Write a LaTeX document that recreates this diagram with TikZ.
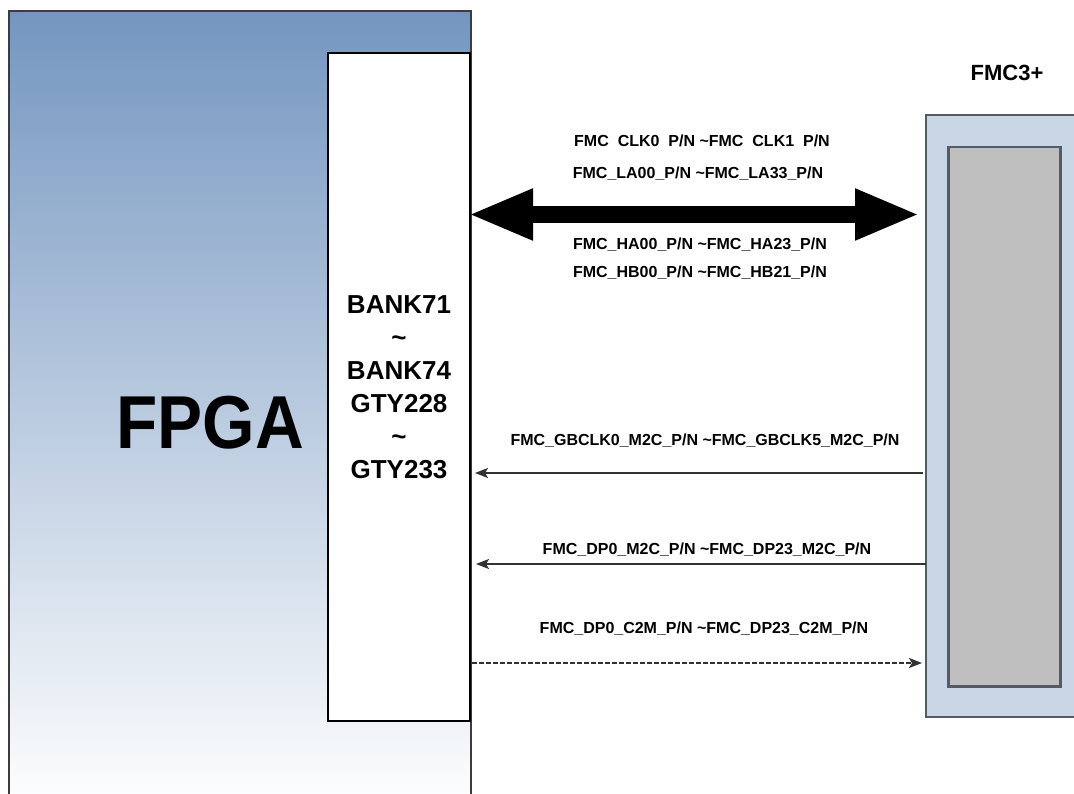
\documentclass[tikz,border=0pt]{standalone}
\usepackage{fontspec}
\setmainfont{Liberation Sans}
\usetikzlibrary{arrows.meta}
\definecolor{fpgatop}{RGB}{116,150,192}
\definecolor{fpgaline}{RGB}{60,60,64}
\definecolor{fmcblue}{RGB}{200,214,230}
\definecolor{fmcline}{RGB}{85,91,102}
\definecolor{fmcgray}{RGB}{191,191,191}
\definecolor{sigline}{RGB}{50,50,50}
\begin{document}
\begin{tikzpicture}[x=1pt,y=-1pt,
  lbl/.style={font=\bfseries\fontsize{16}{18}\selectfont, inner sep=0pt, text=black},
  sig/.style={draw=sigline, line width=2pt},
  tipl/.style={-{Stealth[length=13pt,width=10pt,inset=3pt]}},
  bigarrow/.style={line width=17pt, draw=black,
     {Triangle[length=65pt,width=47pt]}-{Triangle[length=65pt,width=47pt]}},
]
\useasboundingbox (0,0) rectangle (1074,794);
\clip (0,0) rectangle (1074,794);
\fill[white] (0,0) rectangle (1074,794);

% FPGA block
\node[anchor=north west, minimum width=462pt, minimum height=800pt, inner sep=0pt,
      top color=fpgatop, bottom color=white, draw=fpgaline, line width=2pt] (fpga) at (8,10) {};
\node[font=\bfseries\fontsize{75}{80}\selectfont, xscale=0.9, inner sep=0pt] (fpgatxt) at (210,423) {FPGA};

% Bank block
\node[draw=black, line width=2pt, fill=white, minimum width=142pt, minimum height=668pt,
      inner sep=0pt, align=center, font=\bfseries\fontsize{26}{33}\selectfont] (bank) at (399,387)
      {BANK71\\\textasciitilde\\BANK74\\GTY228\\\textasciitilde\\GTY233};

% FMC block
\node[anchor=north west, minimum width=170pt, minimum height=602pt, inner sep=0pt, fill=fmcblue] (fmco) at (926,115) {};
\draw[fmcline, line width=2pt] (fmco.north east) -- (fmco.north west) -- (fmco.south west) -- (fmco.south east);
\node[anchor=north west, minimum width=112pt, minimum height=539pt, inner sep=0pt, fill=fmcgray,
      draw=fmcline, line width=2.5pt] (fmci) at (947,146) {};
\node[font=\bfseries\fontsize{22}{24}\selectfont, inner sep=0pt] (fmclbl) at (1007,73) {FMC3+};

% Big bidirectional bus
\coordinate (ybig) at (0,214.5);
\draw[bigarrow, shorten <=-3pt, shorten >=6pt] (bank.east |- ybig) -- (fmco.west |- ybig);
\node[lbl] (l1) at (702,141) {FMC\ \ CLK0\ \ P/N \textasciitilde FMC\ \ CLK1\ \ P/N};
\node[lbl] (l2) at (698,174) {FMC\_LA00\_P/N \textasciitilde FMC\_LA33\_P/N};
\node[lbl] (l3) at (700,245) {FMC\_HA00\_P/N \textasciitilde FMC\_HA23\_P/N};
\node[lbl] (l4) at (700,273) {FMC\_HB00\_P/N \textasciitilde FMC\_HB21\_P/N};

% GBCLK
\coordinate (y1) at (0,473);
\draw[sig, tipl, shorten <=3pt, shorten >=4pt] (fmco.west |- y1) -- (bank.east |- y1);
\node[lbl] (l5) at (705,441) {FMC\_GBCLK0\_M2C\_P/N \textasciitilde FMC\_GBCLK5\_M2C\_P/N};

% DP M2C
\coordinate (y2) at (0,564);
\draw[sig, tipl, shorten >=5pt] (fmco.west |- y2) -- (bank.east |- y2);
\node[lbl] (l6) at (707,550) {FMC\_DP0\_M2C\_P/N \textasciitilde FMC\_DP23\_M2C\_P/N};

% DP C2M
\coordinate (y3) at (0,663);
\draw[sig, tipl, dash pattern=on 5pt off 2pt, shorten <=1pt, shorten >=4pt] (bank.east |- y3) -- (fmco.west |- y3);
\node[lbl] (l7) at (704,629) {FMC\_DP0\_C2M\_P/N \textasciitilde FMC\_DP23\_C2M\_P/N};
\end{tikzpicture}
\end{document}
